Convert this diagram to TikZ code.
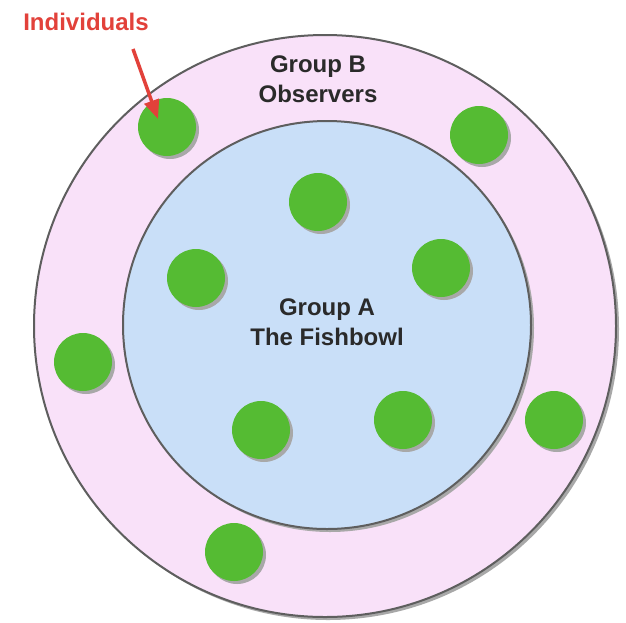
\documentclass[tikz,border=0pt]{standalone}
\usepackage{fontspec}
\setmainfont{Liberation Sans}
\usetikzlibrary{arrows.meta}
\definecolor{pinkfill}{HTML}{F9E1F9}
\definecolor{bluefill}{HTML}{C9DFF8}
\definecolor{greenfill}{HTML}{55BB33}
\definecolor{edgegray}{HTML}{5E5E5E}
\definecolor{shadowgray}{HTML}{A8A8A8}
\definecolor{redtxt}{HTML}{E2413A}
\definecolor{labeltxt}{HTML}{2A2A2A}
\tikzset{
  ring/.style={circle, draw=edgegray, line width=2pt, inner sep=0pt},
  person/.style={circle, fill=greenfill, minimum size=58pt, inner sep=0pt},
  personshadow/.style={circle, fill=shadowgray, minimum size=58pt, inner sep=0pt},
  grouplabel/.style={align=center, font=\bfseries\fontsize{24}{29.5}\selectfont, text=labeltxt},
  redlabel/.style={font=\bfseries\fontsize{24}{28}\selectfont, text=redtxt},
  pointer/.style={draw=redtxt, line width=3.5pt, -{Triangle[length=19pt,width=15pt]}}
}
\begin{document}
\begin{tikzpicture}[x=1pt,y=-1pt]
\useasboundingbox[fill=white] (0,0) rectangle (626,622);
% outer ring
\fill[shadowgray] (328,329) circle (291);
\node[ring, fill=pinkfill, minimum size=582pt] (outer) at (325,326) {};
% inner ring
\fill[shadowgray] (330,328) circle (204);
\node[ring, fill=bluefill, minimum size=408pt] (inner) at (327,325) {};
% individuals
\foreach \n/\x/\y in {p1/167/127, p2/479/135, p3/318/202, p4/196/278, p5/441/268,
                      p6/83/362, p7/261/430, p8/403/420, p9/554/420, p10/234/552} {
  \node[personshadow] at (\x+3,\y+3) {};
  \node[person] (\n) at (\x,\y) {};
}
% labels
\node[grouplabel] (gB) at (318,79) {Group B\\Observers};
\node[grouplabel] (gA) at (327,322) {Group A\\The Fishbowl};
\node[redlabel] (ind) at (86,22) {Individuals};
\coordinate (arrstart) at (133,49);
\coordinate (arrtip) at (158,119);
\draw[pointer] (arrstart) -- (arrtip);
\end{tikzpicture}
\end{document}
